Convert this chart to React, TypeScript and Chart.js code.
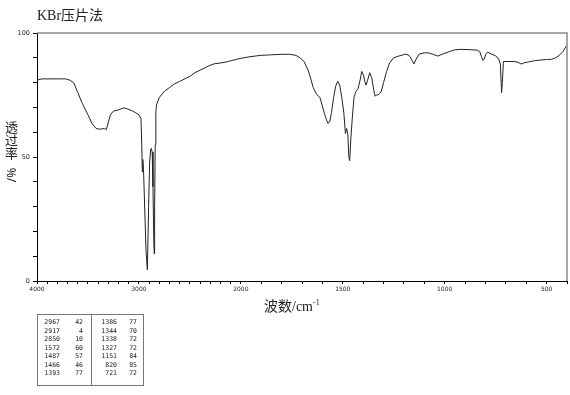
import React, { useEffect, useRef } from 'react';
import { Chart, registerables } from 'chart.js';

Chart.register(...registerables);

// Spectrum (wavenumber in cm-1, transmittance in %)
const wavenumbers = [
  4000, 3950, 3900, 3800, 3720, 3680, 3640, 3600, 3560, 3500, 3460, 3420, 3380, 3340, 3320, 3300, 3280, 3250,
  3200, 3150, 3120, 3060, 3000, 2980, 2972, 2967, 2962, 2955, 2940, 2930, 2917, 2905, 2895, 2885, 2878, 2870,
  2862, 2855, 2850, 2846, 2840, 2834, 2828, 2800, 2750, 2700, 2650, 2600, 2550, 2500, 2450, 2400, 2350, 2300,
  2260, 2200, 2145, 2100, 2050, 2000, 1950, 1900, 1850, 1800, 1760, 1730, 1710, 1690, 1670, 1655, 1645, 1632,
  1620, 1612, 1600, 1590, 1580, 1572, 1563, 1555, 1545, 1535, 1525, 1515, 1505, 1495, 1487, 1481, 1475, 1470,
  1466, 1460, 1453, 1445, 1435, 1425, 1415, 1407, 1398, 1392, 1386, 1378, 1368, 1358, 1348, 1342, 1336, 1328,
  1320, 1311, 1300, 1285, 1270, 1250, 1230, 1210, 1196, 1180, 1170, 1160, 1151, 1140, 1125, 1100, 1080, 1060,
  1034, 1010, 977, 950, 920, 880, 840, 828, 820, 813, 806, 798, 790, 770, 750, 735, 727, 721, 717, 712, 700,
  660, 640, 625, 610, 590, 560, 530, 500, 475, 455, 435, 420, 405, 400,
];
const transmittance = [
  81, 81.5, 81.5, 81.5, 81.5, 81, 80, 76, 72, 67, 63.5, 61.5, 61.2, 61.5, 61, 64, 67, 68.5,
  69, 69.8, 69.5, 68.5, 67, 65.5, 55, 44, 49, 45, 25, 12, 4.5, 30, 48, 53, 53.5, 52,
  38, 18, 11, 30, 55, 68, 71, 74, 76.5, 78, 79.5, 80.5, 81.5, 82.5, 84, 85, 86, 87,
  87.6, 87.9, 88.3, 88.8, 89.3, 89.8, 90.5, 91, 91.2, 91.4, 91.4, 91, 90, 88.5, 85, 81, 78, 75.8,
  74.5, 74, 70.5, 67.5, 65, 63.5, 64.5, 68, 74, 78.5, 80.5, 79, 74, 68, 59.5, 61.5, 59, 50,
  48.5, 58, 66, 74, 76.5, 77.5, 81, 84.5, 83, 80.5, 79, 81, 84, 82, 77, 74.5, 75, 75,
  75.5, 76.5, 80, 84.5, 88, 90, 90.6, 91, 91.5, 91.2, 90.5, 89, 87.5, 89.5, 91.5, 92, 92, 91.5,
  90.7, 91.5, 92.5, 93.2, 93.4, 93.3, 93.1, 92.5, 90.5, 89, 89.5, 91.5, 92.3, 91.5, 90.8, 89.5, 87.5, 76, 80, 88.5, 88.5,
  88.5, 88.2, 87.5, 88, 88.3, 88.8, 89.1, 89.3, 89.4, 90, 91.2, 92.5, 94.5, 95,
];

// Axis ticks
const xTickWavenumbers = [
  4000, 3900, 3800, 3700, 3600, 3500, 3400, 3300, 3200, 3100, 3000, 2900, 2800, 2700, 2600, 2500, 2400, 2300, 2200, 2100,
  2000, 1900, 1800, 1700, 1600, 1500, 1400, 1300, 1200, 1100, 1000, 900, 800, 700, 600, 500, 400,
];
const xTickLabels = [4000, 3000, 2000, 1500, 1000, 500];
const yTicks = [0, 10, 20, 30, 40, 50, 60, 70, 80, 90, 100];
const yTickLabels = [0, 50, 100];

// Peak table
const peaksLeftWavenumber = ['2967', '2917', '2850', '1572', '1487', '1466', '1393'];
const peaksLeftT = ['42', '4', '10', '60', '57', '46', '77'];
const peaksRightWavenumber = ['1386', '1344', '1338', '1327', '1151', '820', '721'];
const peaksRightT = ['77', '70', '72', '72', '84', '85', '72'];

const yTitleChars = ['透', '过', '率'];

// The axis is compressed by 2x above 2000 cm-1
const toAxis = (w: number) => (w > 2000 ? 2000 + (w - 2000) / 2 : w);
const fromAxis = (u: number) => (u > 2000 ? 2000 + (u - 2000) * 2 : u);

const framePlugin = {
  id: 'frame',
  afterDraw(chart: any) {
    const { ctx, chartArea } = chart;
    const { left, top, right, bottom } = chartArea;
    ctx.save();
    ctx.strokeStyle = '#8a8a8a';
    ctx.lineWidth = 1.5;
    ctx.beginPath();
    ctx.moveTo(left, top);
    ctx.lineTo(right, top);
    ctx.lineTo(right, bottom);
    ctx.stroke();
    ctx.restore();
  },
};

const tickFont = { family: "'DejaVu Sans', sans-serif", size: 6 };
const titleFamily = "'Liberation Serif', 'Noto Sans CJK SC', serif";

export default function App() {
  const canvasRef = useRef<HTMLCanvasElement>(null);

  useEffect(() => {
    if (!canvasRef.current) return;
    const chart = new Chart(canvasRef.current, {
      type: 'line',
      data: {
        datasets: [
          {
            data: wavenumbers.map((w, i) => ({ x: toAxis(w), y: transmittance[i] })),
            borderColor: '#222',
            borderWidth: 1,
            pointRadius: 0,
            tension: 0,
            fill: false,
          },
        ],
      },
      options: {
        animation: false,
        responsive: false,
        devicePixelRatio: 1,
        layout: { padding: { left: 0, top: 33, right: 3, bottom: 0 } },
        plugins: { legend: { display: false }, tooltip: { enabled: false } },
        scales: {
          x: {
            type: 'linear',
            reverse: true,
            min: toAxis(400),
            max: toAxis(4000),
            afterBuildTicks: (scale: any) => {
              scale.ticks = xTickWavenumbers.map((w) => ({ value: toAxis(w) }));
            },
            afterFit: (scale: any) => {
              scale.height = 114;
            },
            ticks: {
              autoSkip: false,
              maxRotation: 0,
              minRotation: 0,
              padding: 2,
              color: '#222',
              font: tickFont,
              callback: (v: any) => {
                const w = Math.round(fromAxis(Number(v)));
                return xTickLabels.includes(w) ? String(w) : '';
              },
            },
            grid: { drawOnChartArea: false, drawTicks: true, tickLength: 3, color: '#000', lineWidth: 1 },
            border: { display: true, color: '#000', width: 1 },
          },
          y: {
            type: 'linear',
            min: 0,
            max: 100,
            afterBuildTicks: (scale: any) => {
              scale.ticks = yTicks.map((v) => ({ value: v }));
            },
            afterFit: (scale: any) => {
              scale.width = 37;
            },
            ticks: {
              autoSkip: false,
              padding: 3,
              color: '#222',
              font: { family: "'DejaVu Sans', sans-serif", size: 6.5 },
              callback: (v: any) => (yTickLabels.includes(Number(v)) ? String(v) : ''),
            },
            grid: { drawOnChartArea: false, drawTicks: true, tickLength: 4, color: '#000', lineWidth: 1 },
            border: { display: true, color: '#000', width: 1 },
          },
        },
      },
      plugins: [framePlugin],
    } as any);
    return () => chart.destroy();
  }, []);

  const rowPitch = 8.5;
  const cell = (text: string, right: number, top: number) => (
    <span
      key={`${right}-${top}`}
      style={{ position: 'absolute', right, top, lineHeight: '8px', whiteSpace: 'pre' }}
    >
      {text}
    </span>
  );

  return (
    <div
      style={{
        position: 'fixed',
        left: 0,
        top: 0,
        width: 570,
        height: 395,
        background: '#fff',
        overflow: 'hidden',
      }}
    >
      <canvas ref={canvasRef} width={570} height={395} style={{ position: 'absolute', left: 0, top: 0 }} />
      <div
        style={{
          position: 'absolute',
          left: 37,
          top: 9,
          fontFamily: titleFamily,
          fontSize: 14,
          lineHeight: '14px',
          color: '#222',
          whiteSpace: 'nowrap',
        }}
      >
        KBr压片法
      </div>
      {yTitleChars.map((c, i) => (
        <span
          key={c}
          style={{
            position: 'absolute',
            left: 5,
            top: 121 + i * 13,
            fontFamily: titleFamily,
            fontSize: 13,
            lineHeight: '13px',
            color: '#222',
            whiteSpace: 'nowrap',
          }}
        >
          {c}
        </span>
      ))}
      <div
        style={{
          position: 'absolute',
          left: 12,
          top: 175,
          transform: 'translate(-50%, -50%) rotate(-90deg)',
          fontFamily: "'Noto Sans', sans-serif",
          fontSize: 12,
          lineHeight: '12px',
          color: '#222',
          whiteSpace: 'nowrap',
        }}
      >
        /%
      </div>
      <div
        style={{
          position: 'absolute',
          left: 264,
          top: 299,
          fontFamily: titleFamily,
          fontSize: 14,
          lineHeight: '16px',
          color: '#222',
          whiteSpace: 'nowrap',
        }}
      >
        波数/cm<sup style={{ fontSize: 8, verticalAlign: 'super', lineHeight: 0 }}>-1</sup>
      </div>
      <div
        style={{
          position: 'absolute',
          left: 37,
          top: 314,
          width: 107,
          height: 72,
          boxSizing: 'border-box',
          border: '1px solid #777',
          fontFamily: "'DejaVu Sans Mono', monospace",
          fontSize: 6.5,
          color: '#222',
        }}
      >
        <div style={{ position: 'absolute', left: 53, top: 0, width: 1, height: 70, background: '#777' }} />
        {peaksLeftWavenumber.map((t, i) => cell(t, 106 - 22 - 1, 3 + i * rowPitch))}
        {peaksLeftT.map((t, i) => cell(t, 106 - 45 - 1, 3 + i * rowPitch))}
        {peaksRightWavenumber.map((t, i) => cell(t, 106 - 79 - 1, 3 + i * rowPitch))}
        {peaksRightT.map((t, i) => cell(t, 106 - 99 - 1, 3 + i * rowPitch))}
      </div>
    </div>
  );
}
